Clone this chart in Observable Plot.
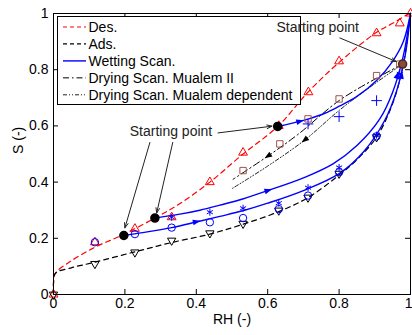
<!DOCTYPE html>
<html><head><meta charset="utf-8">
<script src="https://cdn.jsdelivr.net/npm/d3@7"></script>
<script src="https://cdn.jsdelivr.net/npm/@observablehq/plot@0.6"></script>
<style>
body{margin:0;background:#fff;font-family:"Liberation Sans",Arial,sans-serif;}
#wrap{position:relative;width:412px;height:335px;}
</style></head><body><div id="wrap"></div>
<script>
// ---------- data ----------
const xTicks = [0, 0.2, 0.4, 0.6, 0.8, 1];
const yTicks = [0, 0.2, 0.4, 0.6, 0.8, 1];

const desCurve = [[0,0],[0,0.04],[0.005,0.075],[0.05,0.12],[0.116,0.168],[0.195,0.213],[0.284,0.272],[0.35,0.32],[0.438,0.40],[0.531,0.50],[0.628,0.598],[0.713,0.72],[0.80,0.826],[0.905,0.933],[0.95,0.965],[0.99,0.995],[1,1]];
const adsCurve = [[0,0],[0,0.04],[0.005,0.075],[0.05,0.095],[0.116,0.115],[0.228,0.152],[0.331,0.185],[0.438,0.215],[0.531,0.25],[0.631,0.295],[0.713,0.345],[0.80,0.425],[0.85,0.48],[0.905,0.56],[0.95,0.68],[0.98,0.82],[1,1]];
const wetCurve1 = [[0.197,0.21],[0.25,0.22],[0.331,0.238],[0.40,0.258],[0.466,0.278],[0.53,0.298],[0.60,0.325],[0.70,0.37],[0.80,0.43],[0.87,0.51],[0.928,0.62],[0.96,0.72],[0.985,0.85],[1,1]];
const wetCurve2 = [[0.284,0.272],[0.35,0.285],[0.41,0.30],[0.466,0.318],[0.53,0.34],[0.601,0.37],[0.70,0.415],[0.783,0.465],[0.85,0.53],[0.914,0.625],[0.95,0.72],[0.98,0.85],[1,1]];
const wetCurve3 = [[0.628,0.598],[0.69,0.616],[0.715,0.625],[0.76,0.645],[0.80,0.67],[0.85,0.705],[0.905,0.762],[0.95,0.83],[0.98,0.9],[1,1]];
const dryMualemII = [[0.978,0.82],[0.905,0.77],[0.80,0.69],[0.685,0.57],[0.601,0.493],[0.503,0.41]];
const dryMualemDep = [[0.978,0.82],[0.905,0.755],[0.80,0.655],[0.704,0.55],[0.60,0.457],[0.499,0.376]];

const desPts = [[0,0],[0.116,0.186],[0.228,0.234],[0.331,0.275],[0.438,0.40],[0.531,0.505],[0.631,0.60],[0.714,0.72],[0.80,0.83],[0.905,0.93],[0.97,0.965],[1,1]];
const adsPts = [[0,0],[0.116,0.109],[0.228,0.15],[0.331,0.192],[0.438,0.218],[0.531,0.252],[0.631,0.299],[0.713,0.345],[0.80,0.43],[0.905,0.56]];
const circlePts = [[0.116,0.186],[0.228,0.215],[0.331,0.238],[0.438,0.257],[0.531,0.272],[0.631,0.304],[0.713,0.352],[0.80,0.435],[0.905,0.563]];
const starPts = [[0.331,0.275],[0.438,0.293],[0.531,0.307],[0.631,0.325],[0.713,0.38],[0.80,0.452],[0.905,0.567],[0.97,0.785]];
const plusPts = [[0.713,0.607],[0.80,0.633],[0.905,0.69]];
const squarePts = [[0.531,0.441],[0.634,0.536],[0.713,0.625],[0.80,0.696],[0.905,0.779],[0.97,0.82]];
const startPts = [[0.197,0.21],[0.284,0.272],[0.628,0.598]];
const dryStartPts = [[0.978,0.82]];

// arrowheads on curves: [x, y, towardX, towardY]
const wetHeads = [[0.40,0.259,0.45,0.274],[0.601,0.37,0.65,0.39],[0.69,0.616,0.72,0.626],[0.975,0.78,0.985,0.85],[0.963,0.78,0.98,0.85]];
const dryHeads = [[0.601,0.493,0.55,0.45],[0.704,0.55,0.65,0.495]];

// annotations
const noteLabels = [{t:"Starting point", x:0.329, y:0.58},{t:"Starting point", x:0.74, y:0.951}];
const noteArrows = [[0.27,0.541,0.2,0.237],[0.334,0.541,0.289,0.29],[0.461,0.575,0.612,0.599],[0.802,0.913,0.96,0.829]];

const legendLabels = ["Des.","Ads.","Wetting Scan.","Drying Scan. Mualem II","Drying Scan. Mualem dependent"];

// ---------- drawing ----------
const W = 412, H = 335, mL = 53, mR = 2, mT = 13, mB = 41;
const fw = W - mL - mR, fh = H - mT - mB;
const tl = 5; // tick length px

const triUp = {draw(c, size){ const r=Math.sqrt(size/Math.PI), s=r*2.6, h=s*0.866; c.moveTo(0,-2*h/3); c.lineTo(s/2,h/3); c.lineTo(-s/2,h/3); c.closePath(); }};
const triDown = {draw(c, size){ const r=Math.sqrt(size/Math.PI), s=r*2.6, h=s*0.866; c.moveTo(0,2*h/3); c.lineTo(s/2,-h/3); c.lineTo(-s/2,-h/3); c.closePath(); }};
const head = {draw(c, size){ const r=Math.sqrt(size/Math.PI); c.moveTo(0,-r*1.1); c.lineTo(r*0.75,r*0.9); c.lineTo(-r*0.75,r*0.9); c.closePath(); }};
const ang = d => Math.atan2((d[2]-d[0])*fw, (d[3]-d[1])*fh) * 180 / Math.PI;

const X = d => d[0], Y = d => d[1];
const font = "Liberation Sans, Arial, sans-serif";
const lastX = xTicks[xTicks.length - 1];

const plot = Plot.plot({
  width: W, height: H, marginLeft: mL, marginRight: mR, marginTop: mT, marginBottom: mB,
  x: {domain: [0, 1]}, y: {domain: [0, 1]},
  style: {fontFamily: font, fontSize: "14px", color: "black", background: "white", overflow: "visible"},
  marks: [
    Plot.axisX({ticks: xTicks.slice(0, -1), tickSize: 0, tickPadding: 4, tickFormat: d => String(d), label: null, fontSize: 14}),
    Plot.axisX({ticks: [lastX], tickSize: 0, tickPadding: 4, tickFormat: d => String(d), label: null, fontSize: 14, textAnchor: "end", dx: 2}),
    Plot.axisY({ticks: yTicks, tickSize: 0, tickPadding: 5, tickFormat: d => String(d), label: null, fontSize: 14}),
    Plot.ruleX(xTicks, {x: d => d, y1: 0, y2: tl / fh, stroke: "black"}),
    Plot.ruleX(xTicks, {x: d => d, y1: 1, y2: 1 - tl / fh, stroke: "black"}),
    Plot.ruleY(yTicks, {y: d => d, x1: 0, x2: tl / fw, stroke: "black"}),
    Plot.ruleY(yTicks, {y: d => d, x1: 1, x2: 1 - tl / fw, stroke: "black"}),
    Plot.text(["RH (-)"], {frameAnchor: "bottom", dy: 25, text: d => d, fontSize: 14, lineAnchor: "middle"}),
    Plot.text(["S (-)"], {frameAnchor: "left", dx: -35, rotate: -90, text: d => d, fontSize: 14, lineAnchor: "middle"}),

    Plot.line(desCurve, {x: X, y: Y, stroke: "#ff0000", strokeWidth: 1.2, strokeDasharray: "5,4", curve: "catmull-rom"}),
    Plot.line(adsCurve, {x: X, y: Y, stroke: "black", strokeWidth: 1.2, strokeDasharray: "5,4", curve: "catmull-rom"}),
    Plot.line(dryMualemII, {x: X, y: Y, stroke: "black", strokeWidth: 1, strokeDasharray: "7,3,1.5,3", curve: "catmull-rom"}),
    Plot.line(dryMualemDep, {x: X, y: Y, stroke: "#222", strokeWidth: 1, strokeDasharray: "4,2,1,2,1,2", curve: "catmull-rom"}),
    Plot.line(wetCurve1, {x: X, y: Y, stroke: "#0000ff", strokeWidth: 1.4, curve: "catmull-rom"}),
    Plot.line(wetCurve2, {x: X, y: Y, stroke: "#0000ff", strokeWidth: 1.4, curve: "catmull-rom"}),
    Plot.line(wetCurve3, {x: X, y: Y, stroke: "#0000ff", strokeWidth: 1.4, curve: "catmull-rom"}),

    Plot.dot(desPts, {x: X, y: Y, symbol: triUp, r: 3.4, stroke: "#ff0000", fill: "none", strokeWidth: 1}),
    Plot.dot(adsPts, {x: X, y: Y, symbol: triDown, r: 3.2, stroke: "black", fill: "none", strokeWidth: 1}),
    Plot.dot(circlePts, {x: X, y: Y, r: 3.7, stroke: "#0000ff", fill: "none", strokeWidth: 1}),
    Plot.dot(starPts, {x: X, y: Y, symbol: "asterisk", r: 3.3, stroke: "#0000ff", strokeWidth: 1}),
    Plot.dot(plusPts, {x: X, y: Y, symbol: "plus", r: 3.5, stroke: "#0000ff", strokeWidth: 1}),
    Plot.dot(squarePts, {x: X, y: Y, symbol: "square", r: 3.6, stroke: "#a0524d", fill: "none", strokeWidth: 1}),

    Plot.dot(wetHeads, {x: X, y: Y, symbol: head, r: 3.8, fill: "#0000ff", stroke: "none", rotate: ang}),
    Plot.dot(dryHeads, {x: X, y: Y, symbol: head, r: 3.8, fill: "black", stroke: "none", rotate: ang}),

    Plot.dot(startPts, {x: X, y: Y, r: 4, fill: "black", stroke: "black"}),
    Plot.dot(dryStartPts, {x: X, y: Y, r: 4, fill: "#8b4a3c", stroke: "#4a2a20"}),

    Plot.arrow(noteArrows, {x1: d => d[0], y1: d => d[1], x2: d => d[2], y2: d => d[3], stroke: "#222", strokeWidth: 1, headLength: 8, headAngle: 40}),
    Plot.text(noteLabels, {x: "x", y: "y", text: "t", fontSize: 14, fill: "#222"}),

    Plot.frame({stroke: "black"})
  ]
});
const wrap = document.getElementById("wrap");
wrap.appendChild(plot);

// legend drawn inside the plot's svg, below the annotation text
const lx = 57, ly = 16, lw = 243, lh = 88;
const lstyles = [
  {stroke: "#ff0000", dash: "4,3", w: 1.2},
  {stroke: "black", dash: "4,3", w: 1.2},
  {stroke: "#0000ff", dash: null, w: 1.4},
  {stroke: "black", dash: "6,3,1.5,3", w: 1},
  {stroke: "#222", dash: "4,2,1,2,1,2", w: 1}
];
const svg = d3.select(plot);
const lg = svg.append("g").attr("transform", `translate(${lx},${ly})`).attr("text-anchor", "start");
lg.append("rect").attr("x", 0.5).attr("y", 0.5).attr("width", lw).attr("height", lh).attr("fill", "white").attr("stroke", "black");
legendLabels.forEach((t, i) => {
  const y = 11 + 16.95 * i;
  const s = lstyles[i];
  lg.append("line").attr("x1", 6).attr("x2", 29).attr("y1", y).attr("y2", y)
    .attr("stroke", s.stroke).attr("stroke-width", s.w).attr("stroke-dasharray", s.dash);
  lg.append("text").attr("x", 31.5).attr("y", y).attr("dy", "0.35em").attr("text-anchor", "start")
    .attr("font-family", font).attr("font-size", 14).attr("fill", "black").text(t);
});
// bring the annotation labels above the legend
plot.querySelectorAll("g").forEach(g => {
  if (g.parentNode === plot && g.textContent.includes("Starting point")) plot.appendChild(g);
});
</script></body></html>
